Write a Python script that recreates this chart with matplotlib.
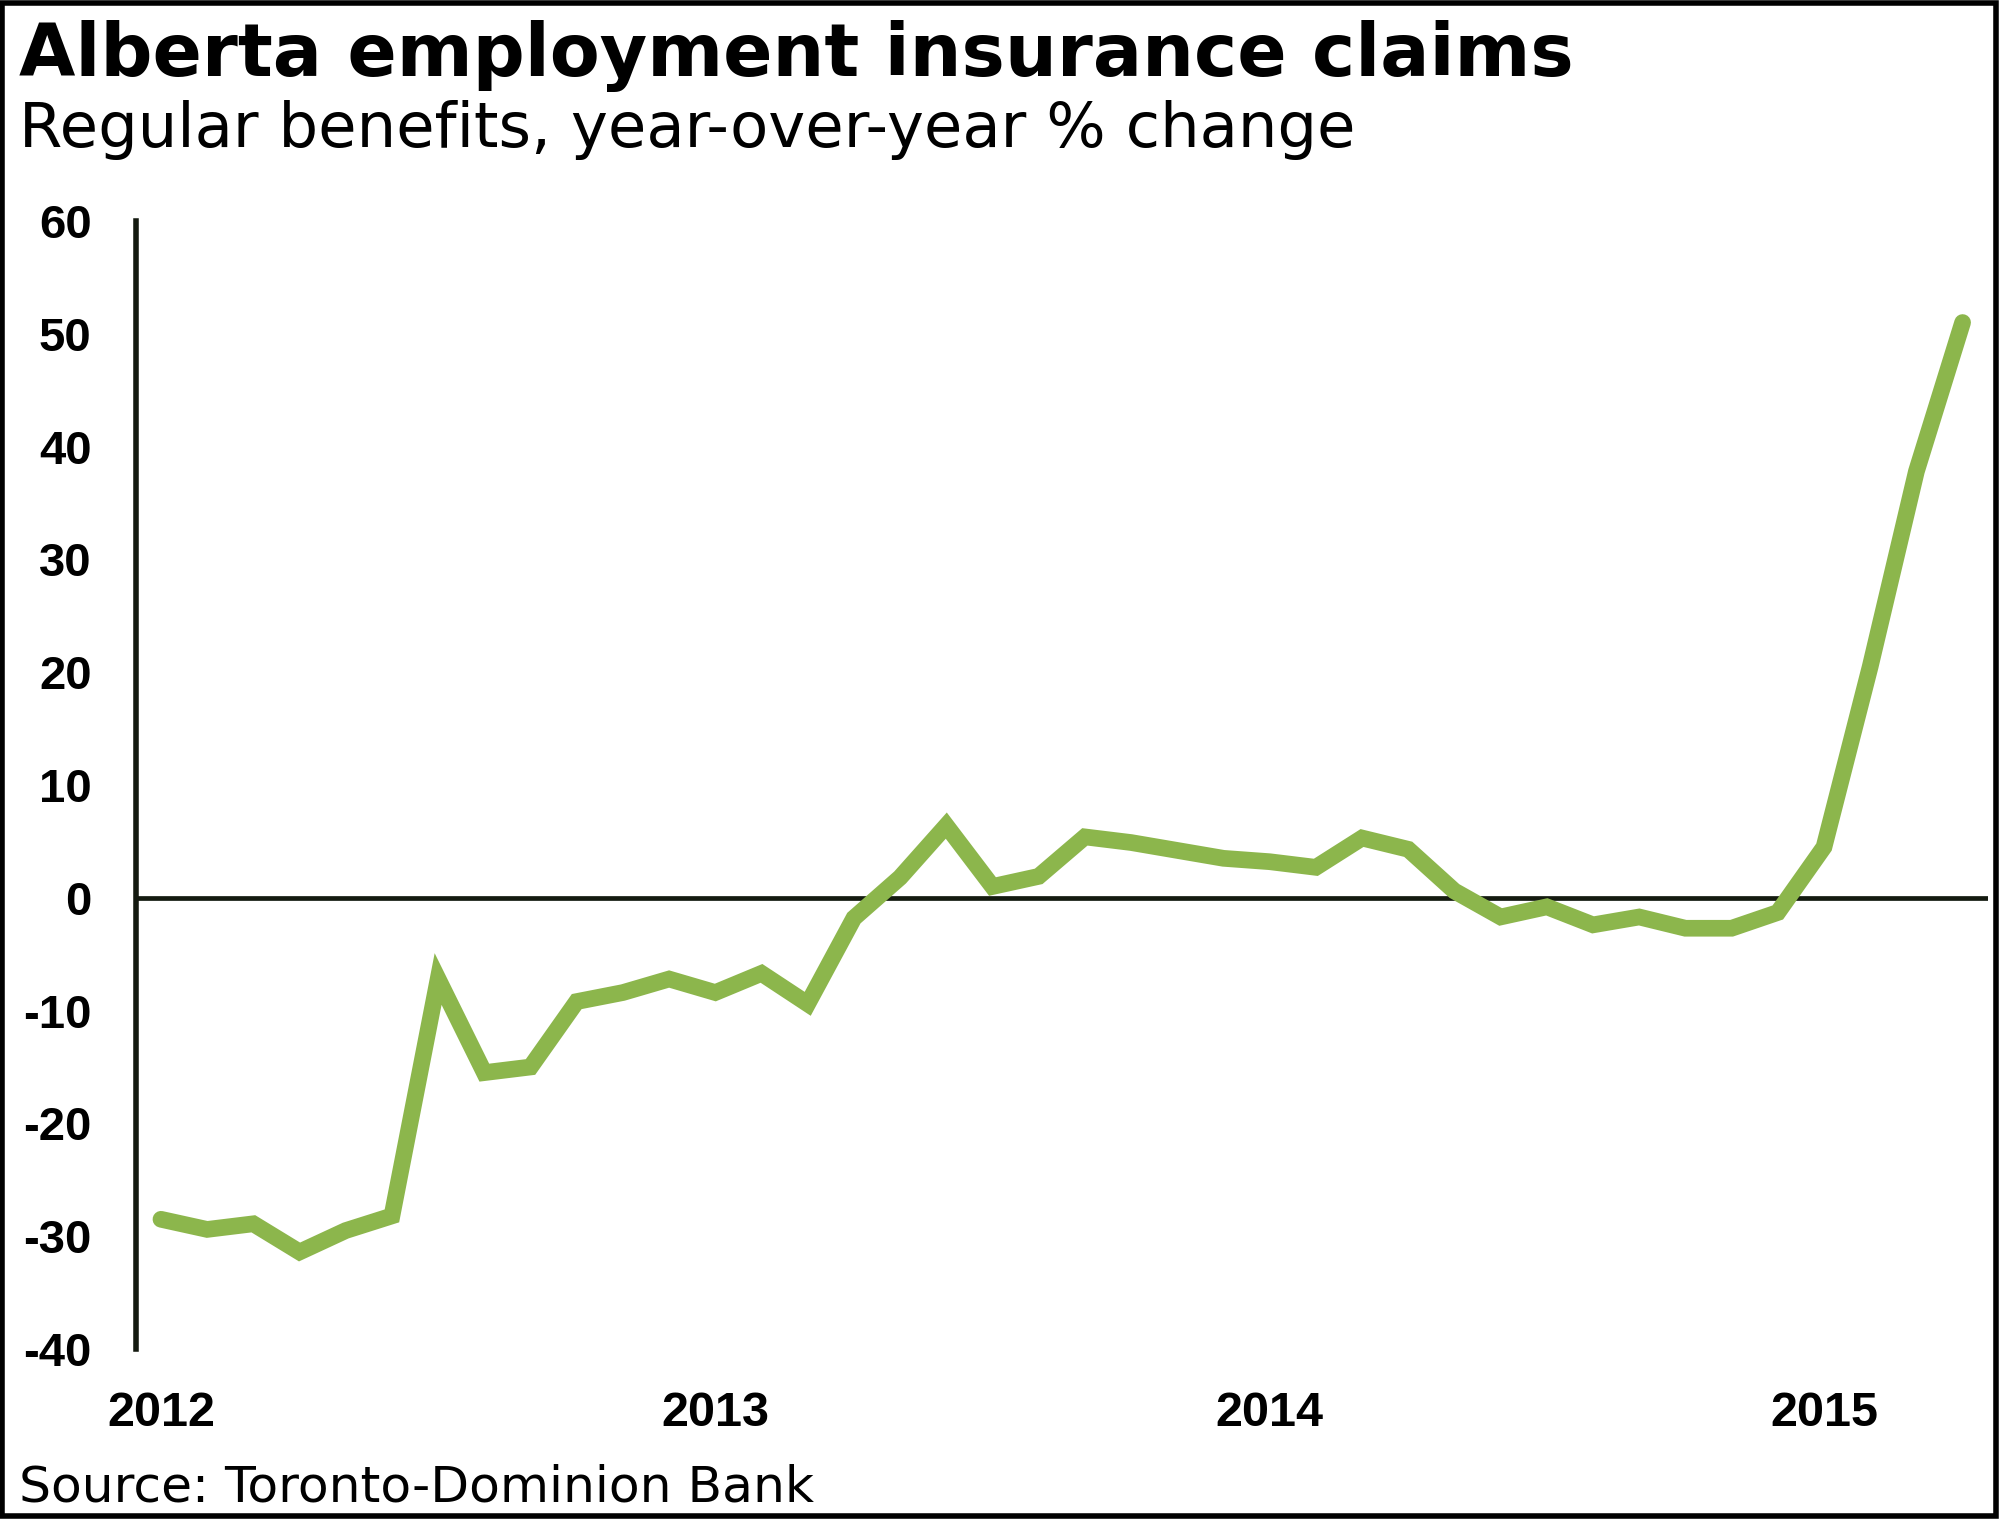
import matplotlib
matplotlib.use("Agg")
import matplotlib.pyplot as plt
from matplotlib.patches import Rectangle

# Monthly data, Jan 2012 - Apr 2015 (year-over-year % change)
months = list(range(40))
yoy_change = [
    -28.5, -29.4, -28.9, -31.4, -29.5, -28.2, -7.2, -15.5, -15.0, -9.2, -8.4, -7.2,   # 2012
    -8.4, -6.7, -9.4, -1.8, 1.8, 6.4, 1.0, 1.9, 5.4, 4.9, 4.2, 3.5,                 # 2013
    3.2, 2.7, 5.3, 4.3, 0.6, -1.7, -0.8, -2.4, -1.7, -2.7, -2.7, -1.3,              # 2014
    4.5, 20.5, 37.8, 51.0,                                                           # 2015
]
year_ticks = [0, 12, 24, 36]
year_labels = ["2012", "2013", "2014", "2015"]
y_ticks = [60, 50, 40, 30, 20, 10, 0, -10, -20, -30, -40]

W, H = 2000, 1519
fig = plt.figure(figsize=(W / 100, H / 100), dpi=100)
fig.patch.set_facecolor("white")

# axes placed so the data lines up with the reference
ax = fig.add_axes([136 / W, 1 - 1349 / H, (1988 - 136) / W, (1349 - 221) / H])
ax.set_xlim(-0.54, 39.55)
ax.set_ylim(-40, 60)

ax.plot(months, yoy_change, color="#8cb64c", lw=12, solid_capstyle="round",
        solid_joinstyle="miter", zorder=3)
ax.axhline(0, color="#141a10", lw=3.4, zorder=2)

for side in ["top", "right", "bottom"]:
    ax.spines[side].set_visible(False)
ax.spines["left"].set_color("#141a10")
ax.spines["left"].set_linewidth(4)

ax.set_yticks(y_ticks)
ax.set_yticklabels([str(v) for v in y_ticks], fontsize=34, fontweight="bold",
                   family="Liberation Sans")
ax.set_xticks(year_ticks)
ax.set_xticklabels(year_labels, fontsize=35, fontweight="bold", family="Liberation Sans")
ax.tick_params(axis="y", length=0, pad=32)
ax.tick_params(axis="x", length=0, pad=30)

fig.text(19 / W, 1 - 76 / H, "Alberta employment insurance claims", fontsize=52.5,
         fontweight="bold", family="DejaVu Sans", va="baseline", ha="left")
fig.text(19 / W, 1 - 147 / H, "Regular benefits, year-over-year % change", fontsize=45,
         family="DejaVu Sans", va="baseline", ha="left")
fig.text(19 / W, 1 - 1502 / H, "Source: Toronto-Dominion Bank", fontsize=36.3,
         family="DejaVu Sans", va="baseline", ha="left")

# black frame around the whole image
fig.patches.append(Rectangle((0.001, 0.002), 0.997, 0.996, transform=fig.transFigure,
                             fill=False, edgecolor="black", lw=4))

fig.savefig("out.png", dpi=100, facecolor="white")
